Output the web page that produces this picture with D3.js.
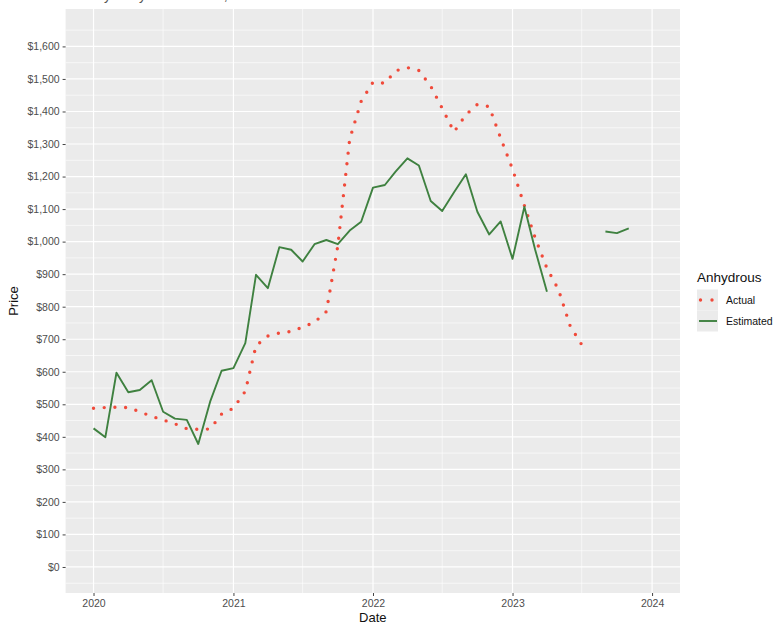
<!DOCTYPE html>
<html>
<head>
<meta charset="utf-8">
<script src="https://cdn.jsdelivr.net/npm/d3@7"></script>
<style>
  html, body { margin: 0; padding: 0; background: #ffffff; }
  svg { display: block; font-family: "Liberation Sans", Arial, Helvetica, sans-serif; }
</style>
</head>
<body>
<svg id="chart" width="775" height="625"></svg>
<script>
// ---- data ----
const months = [
  "2020-01","2020-02","2020-03","2020-04","2020-05","2020-06","2020-07","2020-08","2020-09","2020-10","2020-11","2020-12",
  "2021-01","2021-02","2021-03","2021-04","2021-05","2021-06","2021-07","2021-08","2021-09","2021-10","2021-11","2021-12",
  "2022-01","2022-02","2022-03","2022-04","2022-05","2022-06","2022-07","2022-08","2022-09","2022-10","2022-11","2022-12",
  "2023-01","2023-02","2023-03","2023-04","2023-05","2023-06","2023-07","2023-08","2023-09","2023-10","2023-11"
];
const actual = [
  488, 490, 491, 490, 477, 463, 452, 440, 425, 423, 424, 470,
  488, 540, 680, 710, 719, 724, 737, 752, 785, 987, 1315, 1431,
  1490, 1487, 1525, 1535, 1526, 1478, 1410, 1337, 1390, 1422, 1415, 1318,
  1223, 1111, 1012, 918, 853, 740, 683, null, null, null, null
];
const estimated = [
  426, 399, 597, 537, 544, 574, 477, 456, 452, 378, 508, 603,
  611, 688, 898, 857, 983, 975, 939, 992, 1005, 992, 1034, 1061,
  1166, 1174, 1215, 1256, 1234, 1125, 1094, 1152, 1207, 1092, 1022, 1062,
  947, 1107, 976, 846, null, null, null, null, 1031, 1026, 1041
];
const yTicks = [0, 100, 200, 300, 400, 500, 600, 700, 800, 900, 1000, 1100, 1200, 1300, 1400, 1500, 1600];
const xTickYears = [2020, 2021, 2022, 2023, 2024];
const seriesNames = ["Actual", "Estimated"];
const titleText = "Monthly Anhydrous Prices, Actual vs Estimated";

// ---- layout ----
const svg = d3.select("#chart");
const panel = { left: 65.6, right: 680, top: 9, bottom: 593 };
const colActual = "#f04a3a";
const colEst = "#3f8140";

const parse = d3.timeParse("%Y-%m");
const t0 = new Date(2020, 0, 1), t1 = new Date(2024, 0, 1);
const span = t1 - t0;
const x = d3.scaleTime()
  .domain([new Date(+t0 - 0.05 * span), new Date(+t1 + 0.05 * span)])
  .range([panel.left, panel.right]);
const y = d3.scaleLinear().domain([-80, 1715]).range([panel.bottom, panel.top]);

// title (cut off at the top edge, as in the reference)
svg.append("text").attr("x", 62).attr("y", -0.5)
  .attr("font-size", 14).attr("fill", "#555").text(titleText);

// panel background
svg.append("rect")
  .attr("x", panel.left).attr("y", panel.top)
  .attr("width", panel.right - panel.left).attr("height", panel.bottom - panel.top)
  .attr("fill", "#ebebeb");

const grid = svg.append("g");
// minor y grid
const yMinor = [-50].concat(yTicks.map(v => v + 50)).filter(v => v > -80 && v < 1715);
grid.selectAll(".ymin").data(yMinor).join("line")
  .attr("x1", panel.left).attr("x2", panel.right)
  .attr("y1", d => y(d)).attr("y2", d => y(d))
  .attr("stroke", "#ffffff").attr("stroke-width", 0.6);
// minor x grid (mid-year)
const xMinor = [2019, 2020, 2021, 2022, 2023, 2024].map(yr => new Date(yr, 6, 1))
  .filter(d => d > x.domain()[0] && d < x.domain()[1]);
grid.selectAll(".xmin").data(xMinor).join("line")
  .attr("y1", panel.top).attr("y2", panel.bottom)
  .attr("x1", d => x(d)).attr("x2", d => x(d))
  .attr("stroke", "#ffffff").attr("stroke-width", 0.6);
// major grid
grid.selectAll(".ymaj").data(yTicks).join("line")
  .attr("x1", panel.left).attr("x2", panel.right)
  .attr("y1", d => y(d)).attr("y2", d => y(d))
  .attr("stroke", "#ffffff").attr("stroke-width", 1.2);
grid.selectAll(".xmaj").data(xTickYears.map(yr => new Date(yr, 0, 1))).join("line")
  .attr("y1", panel.top).attr("y2", panel.bottom)
  .attr("x1", d => x(d)).attr("x2", d => x(d))
  .attr("stroke", "#ffffff").attr("stroke-width", 1.2);

// axes
const fmt = d3.format("$,");
const yAxis = d3.axisLeft(y).tickValues(yTicks).tickFormat(d => fmt(d)).tickSize(3).tickPadding(3);
const gy = svg.append("g").attr("transform", `translate(${panel.left},0)`).call(yAxis);
gy.select(".domain").remove();
gy.selectAll("line").attr("stroke", "#444");
gy.selectAll("text").attr("fill", "#4d4d4d").attr("font-size", 10.5)
  .attr("font-family", "Liberation Sans, Arial, sans-serif");

const xAxis = d3.axisBottom(x).tickValues(xTickYears.map(yr => new Date(yr, 0, 1)))
  .tickFormat(d3.timeFormat("%Y")).tickSize(3).tickPadding(4);
const gx = svg.append("g").attr("transform", `translate(0,${panel.bottom})`).call(xAxis);
gx.select(".domain").remove();
gx.selectAll("line").attr("stroke", "#444");
gx.selectAll("text").attr("fill", "#4d4d4d").attr("font-size", 10.5)
  .attr("font-family", "Liberation Sans, Arial, sans-serif");

// axis titles
svg.append("text").attr("x", (panel.left + panel.right) / 2).attr("y", 622)
  .attr("text-anchor", "middle").attr("font-size", 13).attr("fill", "#111").text("Date");
svg.append("text").attr("transform", `translate(18,${(panel.top + panel.bottom) / 2}) rotate(-90)`)
  .attr("text-anchor", "middle").attr("font-size", 13).attr("fill", "#111").text("Price");

// lines
const rows = months.map((m, i) => ({ d: parse(m), a: actual[i], e: estimated[i] }));
const lineA = d3.line().defined(d => d.a != null).x(d => x(d.d)).y(d => y(d.a));
const lineE = d3.line().defined(d => d.e != null).x(d => x(d.d)).y(d => y(d.e));

svg.append("clipPath").attr("id", "pclip").append("rect")
  .attr("x", panel.left).attr("y", panel.top)
  .attr("width", panel.right - panel.left).attr("height", panel.bottom - panel.top);
const plot = svg.append("g").attr("clip-path", "url(#pclip)");

plot.append("path").datum(rows).attr("d", lineA)
  .attr("fill", "none").attr("stroke", colActual).attr("stroke-width", 3.4)
  .attr("stroke-linecap", "round").attr("stroke-dasharray", "0 10.7");
plot.append("path").datum(rows).attr("d", lineE)
  .attr("fill", "none").attr("stroke", colEst).attr("stroke-width", 1.9)
  .attr("stroke-linejoin", "round");

// legend
const lg = svg.append("g").attr("transform", "translate(697,0)");
lg.append("text").attr("x", 0).attr("y", 282).attr("font-size", 13.5).attr("fill", "#111").text("Anhydrous");
seriesNames.forEach((name, i) => {
  const cy = 300 + i * 21;
  lg.append("rect").attr("x", 0).attr("y", cy - 10.5).attr("width", 21).attr("height", 21).attr("fill", "#ebebeb");
  if (i === 0) {
    lg.append("line").attr("x1", 3.5).attr("x2", 16.5).attr("y1", cy).attr("y2", cy)
      .attr("stroke", colActual).attr("stroke-width", 3.4).attr("stroke-linecap", "round")
      .attr("stroke-dasharray", "0 11.5");
  } else {
    lg.append("line").attr("x1", 2).attr("x2", 20).attr("y1", cy).attr("y2", cy)
      .attr("stroke", colEst).attr("stroke-width", 1.9);
  }
  lg.append("text").attr("x", 29).attr("y", cy + 4).attr("font-size", 10.5).attr("fill", "#111").text(name);
});
</script>
</body>
</html>
